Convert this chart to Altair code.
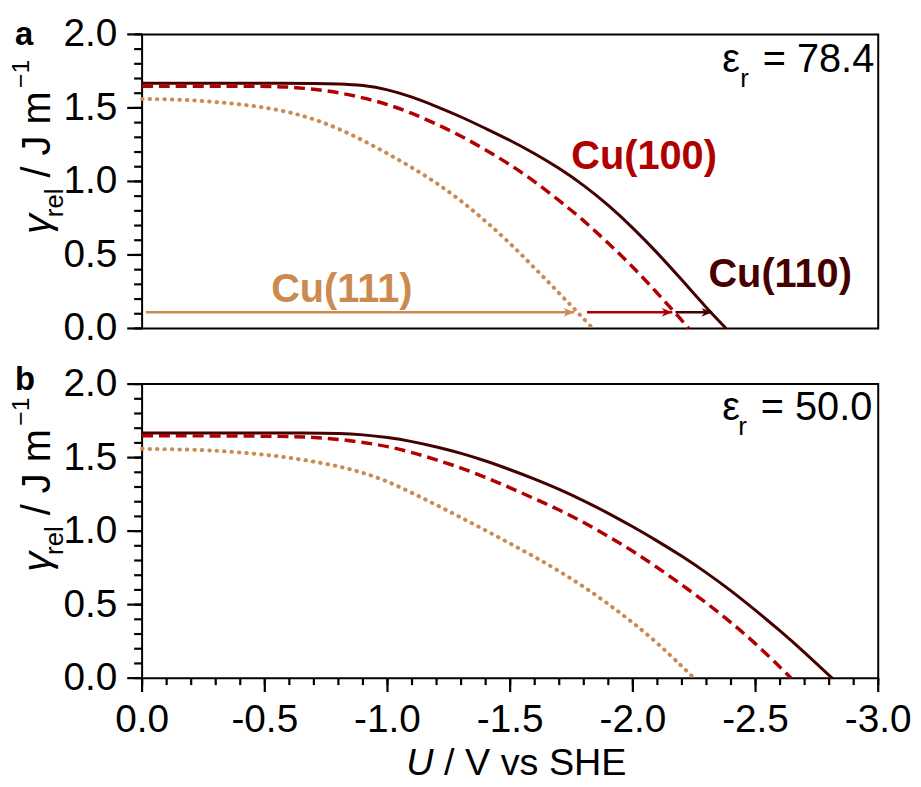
import altair as alt
import pandas as pd

FONT = "Liberation Sans"
C111 = "#CC8B4E"
C100 = "#B00000"
C110 = "#450000"

# ---------------- data ----------------
# panel a : eps_r = 78.4
U_a_110 = [0, -0.3, -0.6, -0.7, -0.8, -0.9, -1.0, -1.1, -1.2, -1.3, -1.4, -1.5, -1.6, -1.7,
           -1.8, -1.9, -2.0, -2.1, -2.2, -2.3, -2.38]
G_a_110 = [1.668, 1.668, 1.668, 1.667, 1.664, 1.655, 1.627, 1.575, 1.51, 1.44, 1.36, 1.28,
           1.19, 1.09, 0.975, 0.84, 0.685, 0.515, 0.33, 0.14, 0.0]
U_a_100 = [0, -0.3, -0.5, -0.6, -0.7, -0.8, -0.9, -1.0, -1.1, -1.2, -1.3, -1.4, -1.5,
           -1.6, -1.7, -1.8, -1.9, -2.0, -2.1, -2.2, -2.228]
G_a_100 = [1.648, 1.648, 1.647, 1.643, 1.628, 1.605, 1.57, 1.525, 1.465, 1.39, 1.31,
           1.215, 1.115, 1.0, 0.87, 0.735, 0.58, 0.42, 0.24, 0.055, 0.0]
U_a_111 = [0, -0.1, -0.2, -0.3, -0.4, -0.5, -0.6, -0.7, -0.8, -0.9, -1.0, -1.1, -1.2, -1.3,
           -1.4, -1.5, -1.6, -1.7, -1.8, -1.837]
G_a_111 = [1.56, 1.56, 1.553, 1.54, 1.525, 1.503, 1.472, 1.425, 1.36, 1.28, 1.19, 1.095, 0.99,
           0.87, 0.73, 0.58, 0.41, 0.24, 0.065, 0.0]

# panel b : eps_r = 50.0
U_b_110 = [0, -0.3, -0.7, -0.8, -0.9, -1.0, -1.1, -1.2, -1.3, -1.4, -1.5, -1.6, -1.7, -1.8,
           -1.9, -2.0, -2.1, -2.2, -2.3, -2.4, -2.5, -2.6, -2.7, -2.812]
G_b_110 = [1.668, 1.668, 1.668, 1.665, 1.656, 1.638, 1.61, 1.573, 1.53, 1.478, 1.418, 1.355,
           1.285, 1.207, 1.122, 1.03, 0.933, 0.83, 0.718, 0.595, 0.462, 0.322, 0.175, 0.0]
U_b_100 = [0, -0.3, -0.6, -0.7, -0.8, -0.9, -1.0, -1.1, -1.2, -1.3, -1.4, -1.5, -1.6, -1.7,
           -1.8, -1.9, -2.0, -2.1, -2.2, -2.3, -2.4, -2.5, -2.6, -2.645]
G_b_100 = [1.648, 1.648, 1.645, 1.638, 1.625, 1.604, 1.577, 1.536, 1.485, 1.43, 1.366, 1.295,
           1.22, 1.145, 1.06, 0.965, 0.865, 0.752, 0.635, 0.512, 0.38, 0.236, 0.075, 0.0]
U_b_111 = [0, -0.2, -0.3, -0.4, -0.5, -0.6, -0.7, -0.8, -0.9, -1.0, -1.1, -1.2, -1.3, -1.4,
           -1.5, -1.6, -1.7, -1.8, -1.9, -2.0, -2.1, -2.2, -2.25]
G_b_111 = [1.56, 1.555, 1.547, 1.535, 1.52, 1.50, 1.473, 1.442, 1.398, 1.34, 1.26, 1.178,
           1.092, 1.005, 0.915, 0.825, 0.728, 0.622, 0.505, 0.378, 0.24, 0.08, 0.0]

# arrows in panel a
ARROW_NAME = ["Cu(111)", "Cu(100)", "Cu(110)"]
ARROW_START = [-0.015, -1.813, -2.174]
ARROW_END = [-1.761, -2.161, -2.323]
ARROW_Y = [0.11, 0.11, 0.11]

# curve labels in panel a
LABEL_TEXT = ["Cu(111)", "Cu(100)", "Cu(110)"]
LABEL_U = [-0.526, -1.749, -2.308]
LABEL_G = [0.181, 1.084, 0.282]

# ticks and tick labels
X_MAJOR = [0.0, -0.5, -1.0, -1.5, -2.0, -2.5, -3.0]
X_LABELS = ["0.0", "-0.5", "-1.0", "-1.5", "-2.0", "-2.5", "-3.0"]
X_MINOR = [round(-0.1 * i, 1) for i in range(31)]
Y_MAJOR = [0.0, 0.5, 1.0, 1.5, 2.0]
Y_LABELS = ["0.0", "0.5", "1.0", "1.5", "2.0"]
Y_MINOR = [round(0.1 * i, 1) for i in range(21)]

NAMES = ["Cu(111)", "Cu(100)", "Cu(110)"]
COLORS = [C111, C100, C110]
cscale = alt.Scale(domain=NAMES, range=COLORS)

xs = alt.Scale(domain=[0, -3], nice=False, zero=False)
ys = alt.Scale(domain=[0, 2], nice=False, zero=False)

W, H = 741, 296

ARROW_PATH = "M -1.7 -0.7 L 0 0 L -1.7 0.7 L -1.2 0 Z"


def df(u, g):
    return pd.DataFrame({"U": u, "g": g})


def pix_text(text, x, y, size, angle=0, align="left", weight="normal", style="normal",
             color="black"):
    return alt.Chart(pd.DataFrame({"k": [0]})).mark_text(
        text=text, font=FONT, fontSize=size, angle=angle, align=align,
        baseline="alphabetic", fontWeight=weight, fontStyle=style, color=color
    ).encode(x=alt.value(x), y=alt.value(y))


def y_ticks(values, size):
    return alt.Chart(pd.DataFrame({"v": values})).mark_rule(
        color="#000000", strokeWidth=2.2
    ).encode(y=alt.Y("v:Q", scale=ys, axis=None), x=alt.value(0), x2=alt.value(-size))


def x_ticks(values, size):
    return alt.Chart(pd.DataFrame({"v": values})).mark_rule(
        color="#000000", strokeWidth=2.2
    ).encode(x=alt.X("v:Q", scale=xs, axis=None), y=alt.value(H), y2=alt.value(H + size))


def y_labels():
    return alt.Chart(pd.DataFrame({"v": Y_MAJOR, "t": Y_LABELS})).mark_text(
        font=FONT, fontSize=39, align="right", baseline="middle", color="black"
    ).encode(y=alt.Y("v:Q", scale=ys, axis=None), x=alt.value(-25), text="t:N")


def x_labels():
    return alt.Chart(pd.DataFrame({"v": X_MAJOR, "t": X_LABELS})).mark_text(
        font=FONT, fontSize=39, align="center", baseline="top", color="black"
    ).encode(x=alt.X("v:Q", scale=xs, axis=None), y=alt.value(H + 23), text="t:N")


def curves(u110, g110, u100, g100, u111, g111):
    l110 = alt.Chart(df(u110, g110)).mark_line(
        color=C110, strokeWidth=3, interpolate="basis"
    ).encode(x=alt.X("U:Q", scale=xs, axis=None),
             y=alt.Y("g:Q", scale=ys, axis=None))
    l100 = alt.Chart(df(u100, g100)).mark_line(
        color=C100, strokeWidth=3.5, strokeDash=[11, 6], interpolate="basis"
    ).encode(x=alt.X("U:Q", scale=xs, axis=None),
             y=alt.Y("g:Q", scale=ys, axis=None))
    l111 = alt.Chart(df(u111, g111)).mark_line(
        color=C111, strokeWidth=4, strokeDash=[0.5, 7], strokeCap="round",
        interpolate="basis"
    ).encode(x=alt.X("U:Q", scale=xs, axis=None),
             y=alt.Y("g:Q", scale=ys, axis=None))
    return [l110, l100, l111]


def ytitle(shift):
    return [
        pix_text("γ", -93, 201 + shift, 40, angle=270, style="italic"),
        pix_text("rel", -80, 184 + shift, 26, angle=270),
        pix_text("/ J m", -93, 144 + shift, 40, angle=270),
        pix_text("\u22121", -114, 54 + shift, 25, angle=270),
    ]


# ---------------- panel a ----------------
arrows = pd.DataFrame({"name": ARROW_NAME, "x1": ARROW_START, "x2": ARROW_END, "y": ARROW_Y})
arrow_lines = alt.Chart(arrows).mark_rule(strokeWidth=2.5).encode(
    x=alt.X("x1:Q", scale=xs, axis=None), x2="x2:Q",
    y=alt.Y("y:Q", scale=ys, axis=None),
    color=alt.Color("name:N", scale=cscale, legend=None))
arrow_heads = alt.Chart(arrows).mark_point(
    shape=ARROW_PATH, filled=True, size=160, opacity=1, strokeWidth=0
).encode(x=alt.X("x2:Q", scale=xs, axis=None), y=alt.Y("y:Q", scale=ys, axis=None),
         color=alt.Color("name:N", scale=cscale, legend=None))

labels = pd.DataFrame({"name": LABEL_TEXT, "U": LABEL_U, "g": LABEL_G})
label_marks = alt.Chart(labels).mark_text(
    font=FONT, fontSize=40, fontWeight="bold", align="left", baseline="alphabetic"
).encode(x=alt.X("U:Q", scale=xs, axis=None), y=alt.Y("g:Q", scale=ys, axis=None),
         text="name:N", color=alt.Color("name:N", scale=cscale, legend=None))

panel_a = alt.layer(
    *curves(U_a_110, G_a_110, U_a_100, G_a_100, U_a_111, G_a_111),
    arrow_lines, arrow_heads, label_marks, y_labels(),
    pix_text("a", -128, 11, 33, weight="bold"),
    pix_text("ε", 584, 38, 40),
    pix_text("r", 602, 53, 26),
    pix_text("= 78.4", 737, 38, 40, align="right"),
    *ytitle(0),
    y_ticks(Y_MINOR, 8), y_ticks(Y_MAJOR, 15),
).properties(width=W, height=H)

# ---------------- panel b ----------------
panel_b = alt.layer(
    *curves(U_b_110, G_b_110, U_b_100, G_b_100, U_b_111, G_b_111),
    y_labels(), x_labels(),
    pix_text("b", -128, 6, 33, weight="bold"),
    pix_text("ε", 584, 36, 40),
    pix_text("r", 600, 51, 26),
    pix_text("= 50.0", 735, 36, 40, align="right"),
    pix_text("U", 266, 394, 38, style="italic"),
    pix_text("/ V vs SHE", 304, 394, 38),
    *ytitle(-12),
    y_ticks(Y_MINOR, 8), y_ticks(Y_MAJOR, 15),
    x_ticks(X_MINOR, 7), x_ticks(X_MAJOR, 14),
).properties(width=W, height=H)

chart = alt.vconcat(panel_a, panel_b, spacing=56, bounds="flush").properties(
    padding={"left": 0, "top": 4, "right": 0, "bottom": 0}, background="white"
).configure_view(stroke="black", strokeWidth=2)

chart.save("out.html", embed_options={"renderer": "svg", "actions": False})
